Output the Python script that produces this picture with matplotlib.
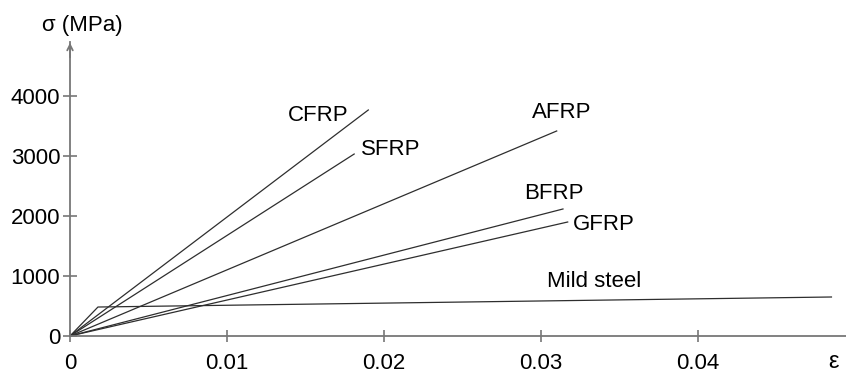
import numpy as np
import matplotlib
matplotlib.use('Agg')
import matplotlib.pyplot as plt

plt.rcParams['font.family'] = ['Liberation Sans', 'DejaVu Sans']

# stress-strain data (strain, stress in MPa)
materials = ['CFRP', 'SFRP', 'AFRP', 'BFRP', 'GFRP']
fail_strain = [0.0190, 0.0181, 0.0310, 0.0314, 0.0317]
fail_stress = [3767, 3033, 3417, 2117, 1900]

steel_strain = [0.0, 0.00178, 0.0485]
steel_stress = [0, 483, 650]

# label anchors (strain, stress)
label_strain = [0.0158, 0.0204, 0.0313, 0.0308, 0.0340]
label_stress = [3667, 3100, 3733, 2367, 1850]
steel_label = ('Mild steel', 0.0334, 900)

xticks = [0, 0.01, 0.02, 0.03, 0.04]
xtick_labels = ['0', '0.01', '0.02', '0.03', '0.04']
yticks = [0, 1000, 2000, 3000, 4000]
ytick_labels = ['0', '1000', '2000', '3000', '4000']

AXIS_COL = '#777777'
LINE_COL = '#2e2e2e'
FS = 16

fig = plt.figure(figsize=(8.46, 3.76), dpi=100)
ax = fig.add_axes([0, 0, 1, 1])
ax.set_xlim(-0.004459, 0.049427)
ax.set_ylim(-666.7, 5600)
ax.patch.set_alpha(0)

for e, s in zip(fail_strain, fail_stress):
    ax.plot([0, e], [0, s], color=LINE_COL, lw=0.9)
ax.plot(steel_strain, steel_stress, color=LINE_COL, lw=0.9)

for name, e, s in zip(materials, label_strain, label_stress):
    ax.text(e, s, name, fontsize=FS, ha='center', va='center')
ax.text(steel_label[1], steel_label[2], steel_label[0], fontsize=FS, ha='center', va='center')

# axes through the origin with arrow heads
for side in ['top', 'right']:
    ax.spines[side].set_visible(False)
ax.spines['left'].set_position(('data', 0))
ax.spines['bottom'].set_position(('data', 0))
ax.spines['left'].set_bounds(0, 4900)
ax.spines['bottom'].set_bounds(0, 0.0495)
for side in ['left', 'bottom']:
    ax.spines[side].set_color(AXIS_COL)
    ax.spines[side].set_linewidth(1.3)

ax.annotate('', xy=(0, 4933), xytext=(0, 4600),
            arrowprops=dict(arrowstyle='->', color=AXIS_COL, lw=1.3))
ax.annotate('', xy=(0.0497, 0), xytext=(0.046, 0),
            arrowprops=dict(arrowstyle='->', color=AXIS_COL, lw=1.3))

ax.set_xticks(xticks)
ax.set_xticklabels(xtick_labels)
ax.set_yticks(yticks)
ax.set_yticklabels(ytick_labels)
ax.tick_params(axis='x', direction='inout', length=9, width=1.2, color=AXIS_COL,
               pad=8, labelsize=FS)
ax.tick_params(axis='y', direction='inout', length=10, width=1.2, color=AXIS_COL,
               pad=2, labelsize=FS)

ax.text(0.00076, 5167, 'σ (MPa)', fontsize=FS, ha='center', va='center')
ax.text(0.0486, -430, 'ε', fontsize=FS + 1, ha='center', va='center')

fig.savefig('out.png', dpi=100)
